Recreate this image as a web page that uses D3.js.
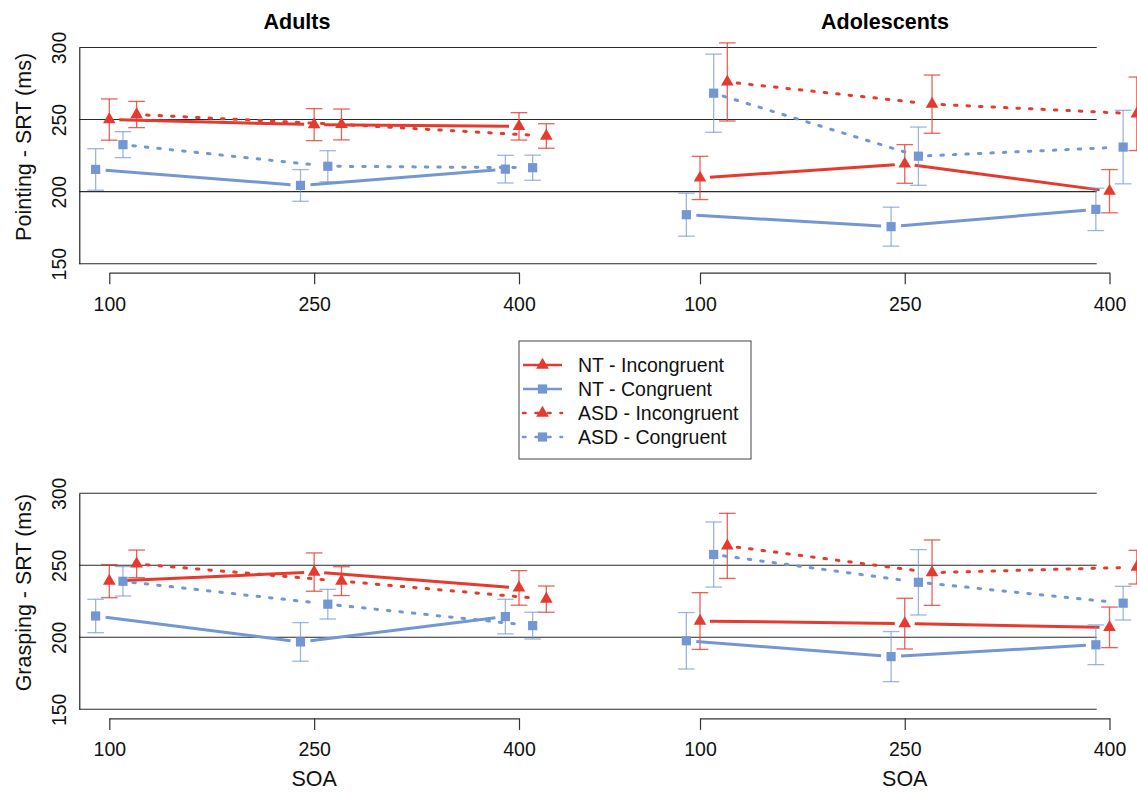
<!DOCTYPE html>
<html>
<head>
<meta charset="utf-8">
<script src="https://cdn.jsdelivr.net/npm/d3@7"></script>
<style>
  body { margin: 0; background: #fff; }
  svg { display: block; font-family: "Liberation Sans", Arial, Helvetica, sans-serif; }
</style>
</head>
<body>
<svg id="chart"></svg>
<script>
const soaLevels = [100, 250, 400]
const conditions = ["NT - Incongruent", "NT - Congruent", "ASD - Incongruent", "ASD - Congruent"]
const ageGroups = ["Adults", "Adolescents"]
const taskLabels = ["Pointing - SRT (ms)", "Grasping - SRT (ms)"]
const yTicks = [150, 200, 250, 300]

// one row per condition (same order as `conditions`), one column per SOA
const adultsPointingMean = [
  [250, 246.5, 245.3],
  [215.4, 204.3, 215.6],
  [253.5, 246.6, 238.6],
  [232.6, 217.6, 216.6],
]
const adultsPointingErr = [
  [14.3, 11.1, 9.5],
  [14.4, 11, 9.6],
  [9.1, 10.7, 8.5],
  [9, 10.8, 8.7],
]
const adolescentsPointingMean = [
  [209.5, 219.2, 200.3],
  [184, 175.7, 187.7],
  [276.1, 260.7, 254],
  [268.3, 224.6, 230.9],
]
const adolescentsPointingErr = [
  [15, 13.4, 15],
  [14.9, 13.5, 14.7],
  [27.1, 20.2, 25.5],
  [27.1, 20.2, 25.5],
]
const adultsGraspingMean = [
  [239, 245.3, 234.3],
  [214.8, 196.8, 214.4],
  [251, 239, 226.5],
  [238.9, 223, 208.1],
]
const adultsGraspingErr = [
  [11.5, 13.3, 12],
  [11.6, 13.4, 12],
  [9.6, 10, 9.1],
  [10.2, 10.3, 9.3],
]
const adolescentsGraspingMean = [
  [211.3, 209.5, 206.9],
  [197.6, 186.6, 194.8],
  [263.5, 244.9, 248.7],
  [257.5, 238.2, 223.7],
]
const adolescentsGraspingErr = [
  [19.7, 17.6, 14.1],
  [19.6, 17.4, 13.8],
  [22.6, 22.7, 11.7],
  [22.6, 22.7, 11.7],
]

const W = 1137
const H = 792
const RED = "#E63A2E"
const BLUE = "#7397D3"

// per condition styling, horizontal dodge in SOA units
const condColor = [RED, BLUE, RED, BLUE]
const condDashed = [false, false, true, true]
const condShape = ["tri", "sq", "tri", "sq"]
const condDodge = [0, -10, 20, 10]

const svg = d3.select("#chart").attr("width", W).attr("height", H)
svg.append("rect").attr("width", W).attr("height", H).attr("fill", "#fff")

const rowTop = [47.5, 493.3]
const rowBottom = [263.7, 709.3]
const colRange = [
  [109.3, 519],
  [700, 1109.5],
]
const boxLeft = 79.3
const lineRight = 1096.7

const xScales = colRange.map((r) => d3.scaleLinear().domain([100, 400]).range(r))
const yScales = rowTop.map((t, i) => d3.scaleLinear().domain([150, 300]).range([rowBottom[i], t]))

// R pch 17 triangle geometry
const TRC0 = 1.5551203
const TRC1 = 1.3467737
const TRC2 = 0.7775602
const triPath = (cx, cy, xc) =>
  `M${cx},${cy - TRC0 * xc}L${cx + TRC1 * xc},${cy + TRC2 * xc}L${cx - TRC1 * xc},${cy + TRC2 * xc}Z`

const drawMarker = (g, shape, cx, cy, color) => {
  if (shape === "tri") {
    g.append("path").attr("d", triPath(cx, cy, 4.7)).attr("fill", color)
  } else {
    g.append("rect")
      .attr("x", cx - 4.6)
      .attr("y", cy - 4.6)
      .attr("width", 9.2)
      .attr("height", 9.2)
      .attr("fill", color)
  }
}

const styleLine = (sel, i, w) =>
  sel
    .attr("stroke", condColor[i])
    .attr("stroke-width", w)
    .attr("stroke-linecap", condDashed[i] ? "round" : "butt")
    .attr("stroke-dasharray", condDashed[i] ? "2.5,10" : null)

/*
  Frame: horizontal reference lines, left axis, x axes
*/
rowTop.forEach((top, r) => {
  const y = yScales[r]
  const g = svg.append("g")

  g.selectAll("line.h")
    .data(yTicks)
    .enter()
    .append("line")
    .attr("class", "h")
    .attr("x1", boxLeft)
    .attr("x2", lineRight)
    .attr("y1", (d) => y(d))
    .attr("y2", (d) => y(d))
    .attr("stroke", "#2a2a2a")
    .attr("stroke-width", 1.1)

  const yAxis = g
    .append("g")
    .attr("transform", `translate(${boxLeft},0)`)
    .call(d3.axisLeft(y).tickValues(yTicks).tickSize(0).tickSizeOuter(0))
  yAxis.select(".domain").attr("stroke", "#111").attr("stroke-width", 1.1)
  yAxis
    .selectAll("text")
    .attr("x", 0)
    .attr("dy", 0)
    .attr("text-anchor", "middle")
    .attr("transform", "translate(-13,0) rotate(-90)")
    .attr("font-size", 19.5)
    .attr("font-family", null)
    .attr("fill", "#111")

  g.append("text")
    .attr("transform", `translate(31,${(top + rowBottom[r]) / 2 - 8.7}) rotate(-90)`)
    .attr("text-anchor", "middle")
    .attr("font-size", 21.5)
    .attr("fill", "#111")
    .text(taskLabels[r])

  xScales.forEach((x, c) => {
    const axisY = rowBottom[r] + 9
    const xAxis = g
      .append("g")
      .attr("transform", `translate(0,${axisY})`)
      .call(d3.axisBottom(x).tickValues(soaLevels).tickSize(11.6).tickSizeOuter(0).tickPadding(12.4))
    xAxis.select(".domain").attr("stroke", "#333").attr("stroke-width", 1.2)
    xAxis.selectAll(".tick line").attr("stroke", "#333").attr("stroke-width", 1.2)
    xAxis
      .selectAll("text")
      .attr("font-size", 19.5)
      .attr("font-family", null)
      .attr("fill", "#111")

    if (r === 1) {
      g.append("text")
        .attr("x", x(250))
        .attr("y", 785.5)
        .attr("text-anchor", "middle")
        .attr("font-size", 21.5)
        .attr("fill", "#111")
        .text("SOA")
    }
  })
})

/*
  Panel titles
*/
const titleX = [297, 885]
ageGroups.forEach((name, c) => {
  svg
    .append("text")
    .attr("x", titleX[c])
    .attr("y", 29.3)
    .attr("text-anchor", "middle")
    .attr("font-size", 21.5)
    .attr("font-weight", "bold")
    .attr("fill", "#000")
    .text(name)
})

/*
  Data: error bars, connecting lines (type "b" with gaps), markers
*/
const panels = [
  { row: 0, col: 0, mean: adultsPointingMean, err: adultsPointingErr },
  { row: 0, col: 1, mean: adolescentsPointingMean, err: adolescentsPointingErr },
  { row: 1, col: 0, mean: adultsGraspingMean, err: adultsGraspingErr },
  { row: 1, col: 1, mean: adolescentsGraspingMean, err: adolescentsGraspingErr },
]

const GAP = 10
const CAP = 8.3

panels.forEach((p) => {
  const x = xScales[p.col]
  const y = yScales[p.row]
  const g = svg.append("g")

  conditions.forEach((cond, i) => {
    const pts = soaLevels.map((s, k) => ({
      px: x(s + condDodge[i]),
      py: y(p.mean[i][k]),
      lo: y(p.mean[i][k] - p.err[i][k]),
      hi: y(p.mean[i][k] + p.err[i][k]),
    }))

    // error bars
    const eb = g
      .append("g")
      .attr("stroke", condColor[i])
      .attr("stroke-opacity", i % 2 === 0 ? 0.8 : 0.7)
      .attr("stroke-width", 1.3)
    pts.forEach((d) => {
      eb.append("line").attr("x1", d.px).attr("x2", d.px).attr("y1", d.lo).attr("y2", d.hi)
      eb.append("line").attr("x1", d.px - CAP).attr("x2", d.px + CAP).attr("y1", d.lo).attr("y2", d.lo)
      eb.append("line").attr("x1", d.px - CAP).attr("x2", d.px + CAP).attr("y1", d.hi).attr("y2", d.hi)
    })

    // connecting segments, shortened around the points
    d3.pairs(pts).forEach(([a, b]) => {
      const dx = b.px - a.px
      const dy = b.py - a.py
      const len = Math.hypot(dx, dy)
      const ux = dx / len
      const uy = dy / len
      g.append("line")
        .attr("x1", a.px + ux * GAP)
        .attr("y1", a.py + uy * GAP)
        .attr("x2", b.px - ux * GAP)
        .attr("y2", b.py - uy * GAP)
        .call(styleLine, i, 3)
    })

    pts.forEach((d) => drawMarker(g, condShape[i], d.px, d.py, condColor[i]))
  })
})

/*
  Legend
*/
const legend = svg.append("g")
legend
  .append("rect")
  .attr("x", 519)
  .attr("y", 341)
  .attr("width", 232)
  .attr("height", 118)
  .attr("fill", "#fff")
  .attr("stroke", "#555")
  .attr("stroke-width", 1.1)

conditions.forEach((cond, i) => {
  const ly = 365 + i * 24
  legend
    .append("line")
    .attr("x1", 523)
    .attr("x2", 562)
    .attr("y1", ly)
    .attr("y2", ly)
    .call(styleLine, i, 2.6)
  drawMarker(legend, condShape[i], 542.5, ly, condColor[i])
  legend
    .append("text")
    .attr("x", 578)
    .attr("y", ly)
    .attr("dy", "0.35em")
    .attr("font-size", 19.5)
    .attr("fill", "#111")
    .text(cond)
})
</script>
</body>
</html>
